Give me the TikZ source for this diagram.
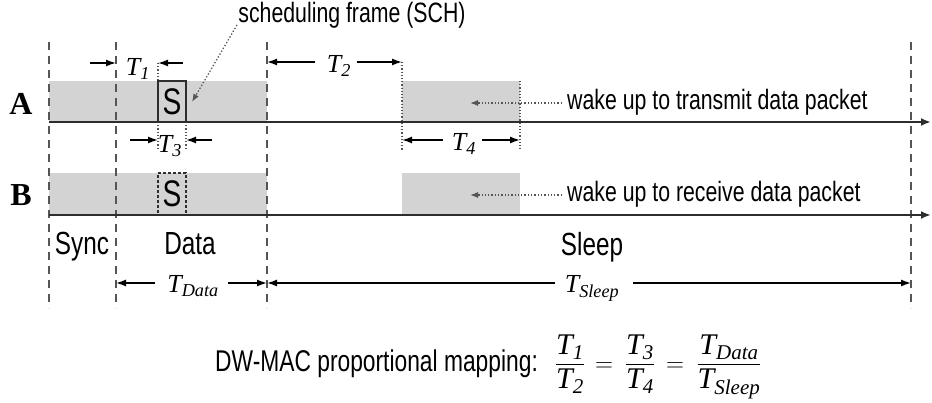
\documentclass[tikz,border=0pt]{standalone}
\usepackage{fontspec}
\usepackage{amsmath}
\setsansfont[FakeStretch=0.76]{Liberation Sans}
\newfontfamily\tfont{Liberation Serif}
\usetikzlibrary{arrows.meta}

\definecolor{band}{RGB}{211,211,211}
\definecolor{guideclr}{RGB}{85,85,85}
\definecolor{axisclr}{RGB}{45,45,45}

% italic period symbol T with an italic subscript
\newcommand\Tv[1]{{\tfont\itshape T}$_{\text{\tfont\itshape #1}}$}

\begin{document}
\begin{tikzpicture}[x=1pt,y=-1pt,
  lbl/.style={font=\sffamily\fontsize{28}{32}\selectfont, inner sep=0},
  phase/.style={font=\sffamily\fontsize{32}{36}\selectfont, inner sep=0, anchor=base},
  tlbl/.style={font=\fontsize{26}{30}\selectfont, inner sep=0, anchor=base},
  rowlbl/.style={font=\tfont\bfseries\fontsize{32}{34}\selectfont, inner sep=0},
  guide/.style={guideclr, line width=1.3pt, dash pattern=on 8pt off 6pt},
  dimarrow/.style={-{Latex[length=10pt,width=7pt]}, line width=1.4pt},
  timeaxis/.style={axisclr, line width=2pt, -{Latex[length=10pt,width=8pt]}},
  thin dots/.style={guideclr, line width=1.2pt, dotted},
  pointer/.style={guideclr, line width=1.3pt, dotted, -{Latex[length=8pt,width=6pt]}},
  slot/.style={fill=band, draw=none},
  mathpart/.style={font=\fontsize{30}{34}\selectfont, inner sep=0, anchor=base}
]
\useasboundingbox (0,0) rectangle (932,403);

% active periods of both nodes
\path[slot] (49,81) rectangle (267,122);
\path[slot] (402,81) rectangle (520,122);
\path[slot] (49,173) rectangle (267,215);
\path[slot] (402,173) rectangle (520,215);

% scheduling frames
\node[draw=axisclr, line width=1.5pt, fill=band, minimum width=28pt, minimum height=41pt,
      inner sep=0, font=\sffamily\fontsize{37}{38}\selectfont] (sA) at (172,101.5) {S};
\node[draw=axisclr, line width=1.3pt, dash pattern=on 3pt off 2pt, minimum width=28pt,
      minimum height=42pt, inner sep=0, font=\sffamily\fontsize{37}{38}\selectfont] (sB) at (172,194) {S};

% period boundaries
\foreach \x in {49,116,267,911} \draw[guide] (\x,42) -- (\x,308);

% extension lines for T1..T4
\draw[thin dots] (158,63) -- (158,81);
\draw[thin dots] (158,122) -- (158,150);
\draw[thin dots] (186,122) -- (186,150);
\draw[thin dots] (402,62) -- (402,150);
\draw[thin dots] (520,81) -- (520,150);

% time axes
\coordinate (a0) at (49,122);  \coordinate (a1) at (931,122);
\coordinate (b0) at (49,215);  \coordinate (b1) at (931,215);
\draw[timeaxis] (a0) -- (a1);
\draw[timeaxis] (b0) -- (b1);

% row labels
\node[rowlbl] (rA) at (21,104) {A};
\node[rowlbl] (rB) at (21,195) {B};

% T1
\draw[dimarrow] (90,63) -- (116,63);
\draw[dimarrow] (183,63) -- (158,63);
\node[tlbl] (t1) at (138,76) {\Tv{1}};
% T3
\draw[dimarrow] (130,140) -- (158,140);
\draw[dimarrow] (212,140) -- (186,140);
\node[tlbl] (t3) at (170,153) {\Tv{3}};
% T2
\draw[dimarrow] (315,62) -- (267,62);
\draw[dimarrow] (357,62) -- (402,62);
\node[tlbl] (t2) at (339,73) {\Tv{2}};
% T4
\draw[dimarrow] (443,140) -- (402,140);
\draw[dimarrow] (482,140) -- (520,140);
\node[tlbl] (t4) at (464,151) {\Tv{4}};

% phase names
\node[phase] (sync) at (82,255) {Sync};
\node[phase] (data) at (190,255) {Data};
\node[phase] (sleep) at (592,256) {Sleep};

% T_Data and T_Sleep
\draw[dimarrow] (155,283) -- (116,283);
\draw[dimarrow] (228,283) -- (267,283);
\node[tlbl] (td) at (193,293) {\Tv{Data}};
\draw[dimarrow] (555,283) -- (267,283);
\draw[dimarrow] (633,283) -- (911,283);
\node[tlbl] (ts) at (592,293) {\Tv{Sleep}};

% annotations
\node[lbl, anchor=base] (sch) at (352,23) {scheduling frame (SCH)};
\coordinate (schtip) at (192,102);
\draw[pointer] (237,25) -- (schtip);

\node[lbl, anchor=base west] (wa) at (567,110) {wake up to transmit data packet};
\coordinate (watip) at (470,103);
\draw[pointer] (562,103) -- (watip);

\node[lbl, anchor=base west] (wb) at (567,202) {wake up to receive data packet};
\coordinate (wbtip) at (470,195);
\draw[pointer] (562,195) -- (wbtip);

% proportional mapping rule
\node[font=\sffamily\fontsize{30}{34}\selectfont, inner sep=0, anchor=base west] (rule) at (215,371)
  {DW-MAC proportional mapping:};
\node[mathpart] (f1) at (570,371) {$\dfrac{\text{\Tv{1}}}{\text{\Tv{2}}}$};
\node[mathpart] (eq1) at (604,371) {$=$};
\node[mathpart] (f2) at (640,371) {$\dfrac{\text{\Tv{3}}}{\text{\Tv{4}}}$};
\node[mathpart] (eq2) at (675,371) {$=$};
\node[mathpart] (f3) at (729,371) {$\dfrac{\text{\Tv{Data}}}{\text{\Tv{Sleep}}}$};
\end{tikzpicture}
\end{document}
